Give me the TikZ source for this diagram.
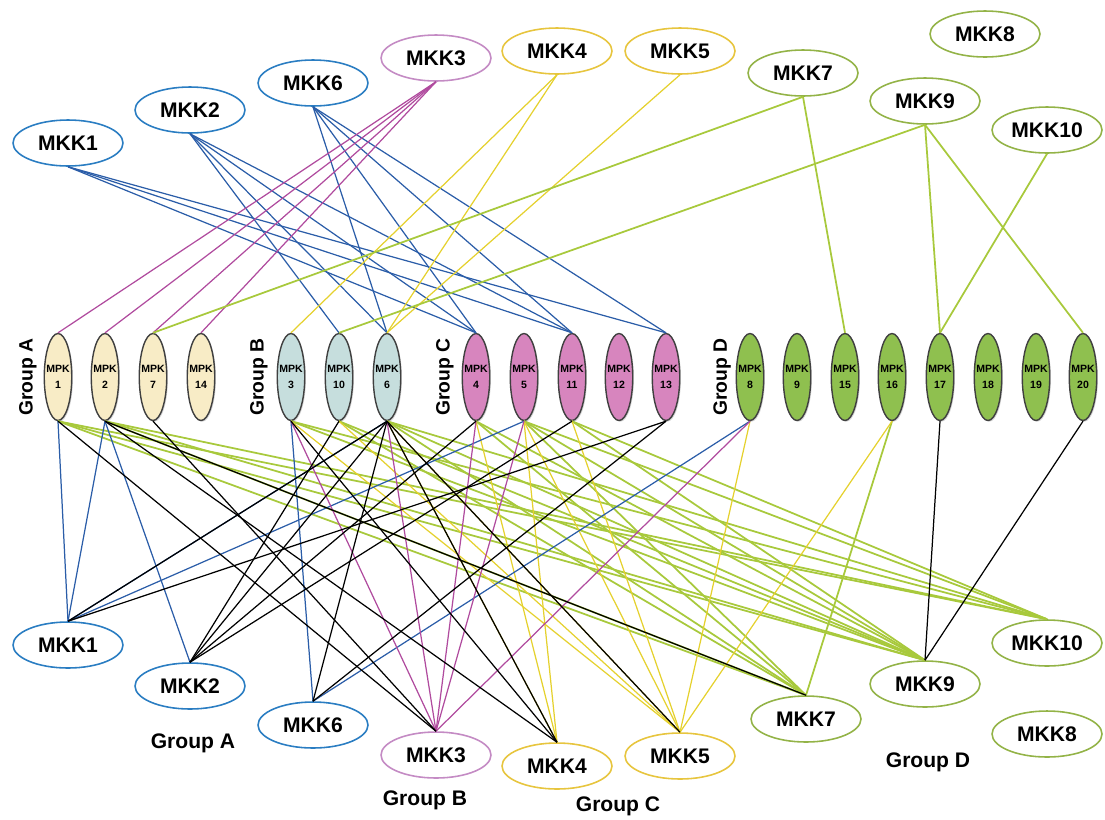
\documentclass[tikz,border=0pt]{standalone}
\usepackage{fontspec}
\setmainfont{Liberation Sans}
\usetikzlibrary{shapes.geometric}
\usetikzlibrary{shadows}
\definecolor{kblue}{HTML}{2A7DC2}
\definecolor{kpink}{HTML}{C48BC4}
\definecolor{kyell}{HTML}{E7C53E}
\definecolor{kgreen}{HTML}{93B347}
\definecolor{fA}{HTML}{F8ECC6}
\definecolor{fB}{HTML}{C6DEDD}
\definecolor{fC}{HTML}{D785BE}
\definecolor{fD}{HTML}{8FC04F}
\definecolor{lblue}{HTML}{2B5DA8}
\definecolor{lmag}{HTML}{B04B9E}
\definecolor{lyell}{HTML}{E5D12E}
\definecolor{lgreen}{HTML}{A8C93C}
\tikzset{mkk/.style={draw,ellipse,line width=0.9pt,minimum width=2.2cm,minimum height=0.92cm,inner sep=0pt,fill=white,font=\fontsize{12}{14}\selectfont\bfseries}}
\tikzset{mpk/.style={draw=black!75,ellipse,line width=0.8pt,minimum width=0.55cm,minimum height=1.74cm,inner xsep=-3pt,inner ysep=0pt,align=center,font=\fontsize{6}{9}\selectfont\bfseries,drop shadow={opacity=0.35,shadow xshift=0.7pt,shadow yshift=-0.7pt}}}
\tikzset{grp/.style={font=\fontsize{12}{14}\selectfont\bfseries}}
\tikzset{vgrp/.style={rotate=90,font=\fontsize{11}{13}\selectfont\bfseries}}
\tikzset{lb/.style={lblue,line width=0.7pt}}
\tikzset{lm/.style={lmag,line width=0.7pt}}
\tikzset{ly/.style={lyell,line width=0.7pt}}
\tikzset{lg/.style={lgreen,line width=1pt}}
\tikzset{lk/.style={black,line width=0.7pt}}

\begin{document}
\begin{tikzpicture}[x=0.02cm,y=-0.02cm]
\useasboundingbox (0,0) rectangle (1105,819);

% top kinases
\node (tk1) [mkk,draw=kblue] at (68,143) {MKK1};
\node (tk2) [mkk,draw=kblue] at (190,110) {MKK2};
\node (tk6) [mkk,draw=kblue] at (313,83) {MKK6};
\node (tk3) [mkk,draw=kpink] at (436,58) {MKK3};
\node (tk4) [mkk,draw=kyell] at (557,51) {MKK4};
\node (tk5) [mkk,draw=kyell] at (680,51) {MKK5};
\node (tk7) [mkk,draw=kgreen] at (803,73) {MKK7};
\node (tk8) [mkk,draw=kgreen] at (985,34) {MKK8};
\node (tk9) [mkk,draw=kgreen] at (925,101) {MKK9};
\node (tk10) [mkk,draw=kgreen] at (1047,130) {MKK10};

% MPK row
\foreach \n/\x in {1/58,2/105,7/153,14/201}
  \node (p\n) [mpk,fill=fA] at (\x,377) {MPK\\\n};
\foreach \n/\x in {3/291,10/339,6/387}
  \node (p\n) [mpk,fill=fB] at (\x,377) {MPK\\\n};
\foreach \n/\x in {4/476,5/524,11/572,12/619,13/666}
  \node (p\n) [mpk,fill=fC] at (\x,377) {MPK\\\n};
\foreach \n/\x in {8/750,9/797,15/845,16/892,17/940,18/988,19/1036,20/1083}
  \node (p\n) [mpk,fill=fD] at (\x,377) {MPK\\\n};
\node (gA) [vgrp] at (28,377) {Group A};
\node (gB) [vgrp] at (259,377) {Group B};
\node (gC) [vgrp] at (445,377) {Group C};
\node (gD) [vgrp] at (722,377) {Group D};

% bottom kinases
\node (bk1) [mkk,draw=kblue] at (68,645) {MKK1};
\node (bk2) [mkk,draw=kblue] at (190,686) {MKK2};
\node (bk6) [mkk,draw=kblue] at (313,725) {MKK6};
\node (bk3) [mkk,draw=kpink] at (436,755) {MKK3};
\node (bk4) [mkk,draw=kyell] at (557,766) {MKK4};
\node (bk5) [mkk,draw=kyell] at (680,756) {MKK5};
\node (bk7) [mkk,draw=kgreen] at (806,719) {MKK7};
\node (bk9) [mkk,draw=kgreen] at (925,684) {MKK9};
\node (bk10) [mkk,draw=kgreen] at (1047,643) {MKK10};
\node (bk8) [mkk,draw=kgreen] at (1047,734) {MKK8};
\node (lA) [grp] at (193,743) {Group A};
\node (lB) [grp] at (425,800) {Group B};
\node (lC) [grp] at (618,806) {Group C};
\node (lD) [grp] at (928,762) {Group D};

% upper links
\foreach \a/\b in {tk1/p4,tk1/p11,tk1/p13,tk2/p10,tk2/p6,tk2/p4,tk2/p11,tk6/p6,tk6/p4,tk6/p11,tk6/p13}
  \draw[lb] (\a.south) -- (\b.north);
\foreach \a/\b in {tk3/p1,tk3/p2,tk3/p7,tk3/p14}
  \draw[lm] (\a.south) -- (\b.north);
\foreach \a/\b in {tk4/p3,tk4/p6,tk5/p6}
  \draw[ly] (\a.south) -- (\b.north);
\foreach \a/\b in {tk7/p7,tk7/p15,tk9/p10,tk9/p17,tk9/p20,tk10/p17}
  \draw[lg] (\a.south) -- (\b.north);

% lower links
\foreach \a/\b in {p1/bk7,p1/bk9,p1/bk10,p2/bk7,p2/bk9,p2/bk10,p3/bk9,p3/bk10,p10/bk7,p10/bk9,p6/bk7,p6/bk9,p6/bk10,p4/bk7,p4/bk9,p5/bk7,p5/bk9,p5/bk10,p11/bk9,p11/bk10,p16/bk7}
  \draw[lg] (\a.south) -- (\b.north);
\foreach \a/\b in {p10/bk5,p6/bk4,p6/bk5,p4/bk4,p5/bk4,p5/bk5,p11/bk5,p8/bk5,p16/bk5,p3/bk5}
  \draw[ly] (\a.south) -- (\b.north);
\foreach \a/\b in {p1/bk1,p2/bk1,p2/bk2,p3/bk6,p6/bk1,p5/bk1,p8/bk6}
  \draw[lb] (\a.south) -- (\b.north);
\foreach \a/\b in {p3/bk3,p6/bk3,p4/bk3,p5/bk3,p8/bk3}
  \draw[lm] (\a.south) -- (\b.north);
\foreach \a/\b in {p1/bk3,p7/bk3,p2/bk4,p2/bk7,p10/bk2,p6/bk1,p6/bk2,p6/bk6,p6/bk4,p6/bk5,p4/bk2,p11/bk2,p13/bk1,p13/bk6,p3/bk4,p17/bk9,p20/bk9}
  \draw[lk] (\a.south) -- (\b.north);
\end{tikzpicture}
\end{document}
